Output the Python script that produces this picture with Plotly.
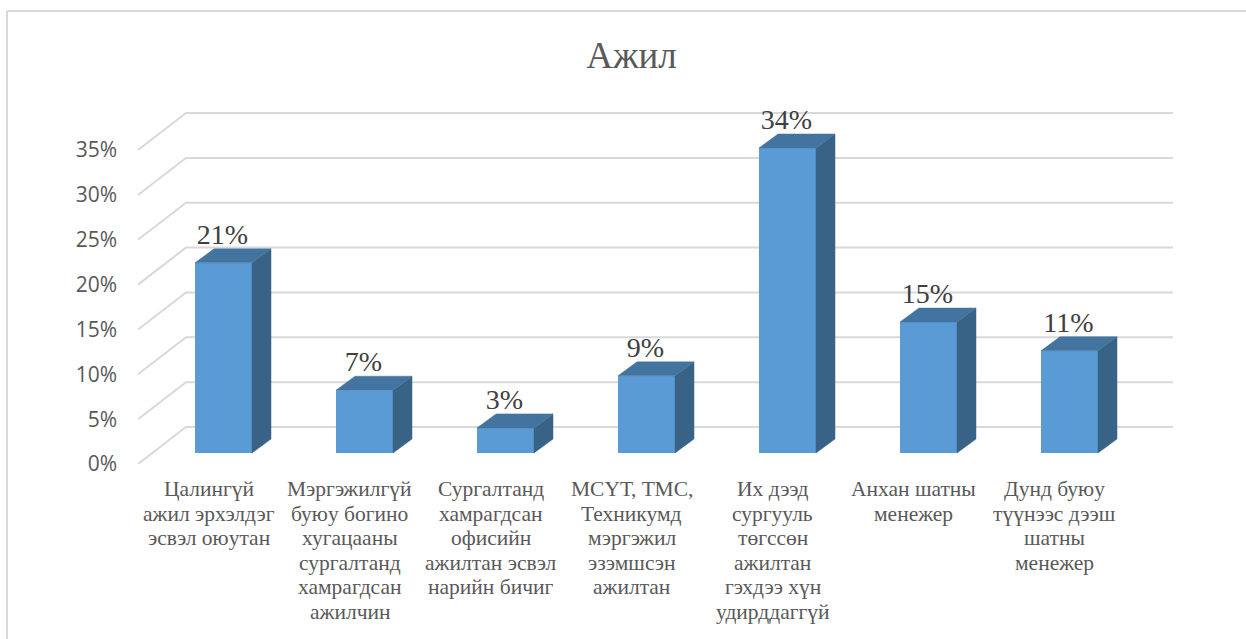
import plotly.graph_objects as go

categories = ["Цалингүй<br>ажил эрхэлдэг<br>эсвэл оюутан",
              "Мэргэжилгүй<br>буюу богино<br>хугацааны<br>сургалтанд<br>хамрагдсан<br>ажилчин",
              "Сургалтанд<br>хамрагдсан<br>офисийн<br>ажилтан эсвэл<br>нарийн бичиг",
              "МСҮТ, ТМС,<br>Техникумд<br>мэргэжил<br>эзэмшсэн<br>ажилтан",
              "Их дээд<br>сургууль<br>төгссөн<br>ажилтан<br>гэхдээ хүн<br>удирддаггүй",
              "Анхан шатны<br>менежер",
              "Дунд буюу<br>түүнээс дээш<br>шатны<br>менежер"]
values = [21.2, 7.0, 2.8, 8.6, 34.0, 14.6, 11.4]
labels = ["21%", "7%", "3%", "9%", "34%", "15%", "11%"]
grid_ticks = [0, 5, 10, 15, 20, 25, 30, 35]
tick_labels = ["0%", "5%", "10%", "15%", "20%", "25%", "30%", "35%"]

PX_X = 141.0
PX_Y = 8.97
SHEAR_X = 48 / PX_X
SHEAR_Y = 37 / PX_Y
FRONT_X = 15 / PX_X
FRONT_Y = 11 / PX_Y
DEPTH_X = 19 / PX_X
DEPTH_Y = 14 / PX_Y
WIDTH = 57 / PX_X
XMIN = -0.5
XMAX = XMIN + 1035 / PX_X

FACE = "#5B9BD5"
SIDE = "#386387"
TOP = "#43749F"
GRID = "#D9D9D9"
TEXT = "#595959"

fig = go.Figure()

xs = list(range(len(values)))
for i, v in zip(xs, values):
    l = i + FRONT_X - WIDTH / 2
    r = i + FRONT_X + WIDTH / 2
    # side face
    fig.add_trace(go.Scatter(
        x=[r, r + DEPTH_X, r + DEPTH_X, r, r],
        y=[FRONT_Y, FRONT_Y + DEPTH_Y, FRONT_Y + DEPTH_Y + v, FRONT_Y + v, FRONT_Y],
        mode="lines", fill="toself", fillcolor=SIDE, line=dict(color=SIDE, width=0.5),
        hoverinfo="skip", showlegend=False))
    # top face
    fig.add_trace(go.Scatter(
        x=[l, l + DEPTH_X, r + DEPTH_X, r, l],
        y=[FRONT_Y + v, FRONT_Y + DEPTH_Y + v, FRONT_Y + DEPTH_Y + v, FRONT_Y + v, FRONT_Y + v],
        mode="lines", fill="toself", fillcolor=TOP, line=dict(color=TOP, width=0.5),
        hoverinfo="skip", showlegend=False))

# front faces
fig.add_trace(go.Bar(x=[i + FRONT_X for i in xs], y=values, base=[FRONT_Y] * len(values),
                     width=WIDTH, marker=dict(color=FACE, line=dict(width=0)),
                     hoverinfo="skip", showlegend=False))

# data labels
fig.add_trace(go.Scatter(
    x=[i + FRONT_X - 1 / PX_X for i in xs],
    y=[FRONT_Y + v + 26 / PX_Y for v in values],
    mode="text", text=labels, textposition="middle center",
    textfont=dict(family="Liberation Serif", size=28, color="#404040"),
    hoverinfo="skip", showlegend=False))

# sheared gridlines below the traces
shapes = []
for t in grid_ticks:
    shapes.append(dict(type="path", xref="x", yref="y", layer="below",
                       path=f"M {XMIN} {t} L {XMIN + SHEAR_X} {t + SHEAR_Y} L {XMAX} {t + SHEAR_Y}",
                       line=dict(color=GRID, width=2)))
shapes += [
    dict(type="line", xref="paper", yref="paper", x0=-131 / 1035, x1=-131 / 1035,
         y0=-175 / 404, y1=453 / 404, line=dict(color=GRID, width=2)),
    dict(type="line", xref="paper", yref="paper", x0=-131 / 1035, x1=1108 / 1035,
         y0=453 / 404, y1=453 / 404, line=dict(color=GRID, width=2)),
]

# category labels, one annotation per line for the tight line pitch
annotations = []
for i, c in zip(xs, categories):
    for k, line in enumerate(c.split("<br>")):
        annotations.append(dict(x=i, y=0, xref="x", yref="y", text=line, showarrow=False,
                                xanchor="center", yanchor="middle",
                                yshift=-(25 + 24.5 * k),
                                font=dict(family="Liberation Serif", size=21.5, color=TEXT)))

fig.update_layout(
    width=1246, height=639, autosize=False, barmode="overlay",
    paper_bgcolor="white", plot_bgcolor="rgba(0,0,0,0)",
    margin=dict(l=138, r=73, t=60, b=175),
    showlegend=False,
    title=dict(text="Ажил", x=631.5 / 1246, xanchor="center", y=1 - 55 / 639, yanchor="middle",
               font=dict(family="Liberation Serif", size=37, color=TEXT)),
    xaxis=dict(range=[XMIN, XMAX], tickmode="array", tickvals=xs, ticktext=[""] * len(xs),
               showgrid=False, zeroline=False, showline=False, ticks=""),
    yaxis=dict(range=[0, 404 / PX_Y], tickmode="array", tickvals=grid_ticks, ticktext=tick_labels,
               showgrid=False, zeroline=False, showline=False, ticks="", ticklabelstandoff=20,
               tickfont=dict(family="Open Sans", size=21, color=TEXT)),
    shapes=shapes,
    annotations=annotations,
)

fig.write_html("out.html", config={"displayModeBar": False},
               post_script="document.body.style.margin='0';document.body.style.overflow='hidden';")
